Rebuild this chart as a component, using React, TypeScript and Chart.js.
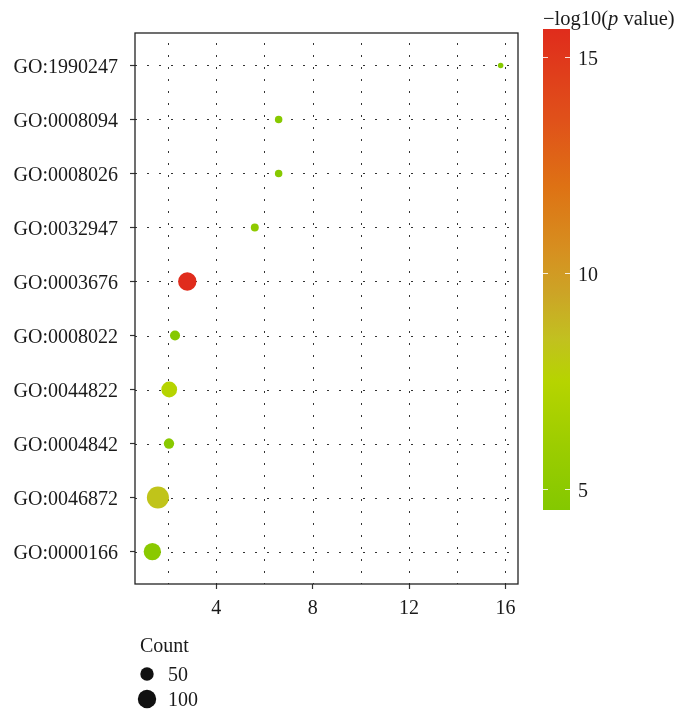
import React, { useEffect, useRef } from "react";
import { Chart, registerables } from "chart.js";
Chart.register(...registerables);

const goTerms = [
  "GO:1990247",
  "GO:0008094",
  "GO:0008026",
  "GO:0032947",
  "GO:0003676",
  "GO:0008022",
  "GO:0044822",
  "GO:0004842",
  "GO:0046872",
  "GO:0000166",
];
const xValues = [15.8, 6.59, 6.59, 5.6, 2.8, 2.29, 2.05, 2.04, 1.58, 1.35];
const counts = [6, 13, 13, 15, 100, 26, 72, 28, 147, 88];
const negLog10P = [4.6, 4.7, 4.7, 5.2, 15.65, 4.6, 7.5, 4.8, 8.3, 4.9];

const xTicks = [4, 8, 12, 16];
const xGridValues = [2, 4, 6, 8, 10, 12, 14, 16];
const xLimits = [0.63, 16.52];

const colorLimits = [4.52, 15.65];
const colorTicks = [5, 10, 15];
const colorStopValues = [4.52, 6.0, 7.5, 8.5, 9.5, 10.5, 12.0, 13.5, 15.65];
const colorStopHexes = [
  "#84c800",
  "#9ccd00",
  "#b6d400",
  "#c2c020",
  "#cca526",
  "#d69020",
  "#de7214",
  "#e0521a",
  "#e02c1c",
];

const countLegend = [50, 100];

const FONT = "'Liberation Serif', 'Times New Roman', serif";

function radiusFor(c: number): number {
  return 0.67 + 0.853 * Math.sqrt(c);
}

function hexToRgb(h: string): number[] {
  const n = parseInt(h.slice(1), 16);
  return [(n >> 16) & 255, (n >> 8) & 255, n & 255];
}

function colorFor(v: number): string {
  const vs = colorStopValues;
  if (v <= vs[0]) return colorStopHexes[0];
  if (v >= vs[vs.length - 1]) return colorStopHexes[vs.length - 1];
  for (let i = 0; i < vs.length - 1; i++) {
    if (v >= vs[i] && v <= vs[i + 1]) {
      const t = (v - vs[i]) / (vs[i + 1] - vs[i]);
      const a = hexToRgb(colorStopHexes[i]);
      const b = hexToRgb(colorStopHexes[i + 1]);
      const c = a.map((x, k) => Math.round(x + (b[k] - x) * t));
      return `rgb(${c[0]},${c[1]},${c[2]})`;
    }
  }
  return colorStopHexes[0];
}

const gridPlugin = {
  id: "dotGrid",
  beforeDatasetsDraw(chart: any) {
    const { ctx, chartArea, scales } = chart;
    const { left, right, top, bottom } = chartArea;
    ctx.save();
    ctx.strokeStyle = "#333";
    ctx.lineWidth = 1;
    ctx.setLineDash([2, 10]);
    for (const v of xGridValues) {
      const x = Math.round(scales.x.getPixelForValue(v)) + 0.5;
      ctx.lineDashOffset = -10;
      ctx.beginPath();
      ctx.moveTo(x, top);
      ctx.lineTo(x, bottom);
      ctx.stroke();
    }
    goTerms.forEach((_, i) => {
      const y = Math.round(scales.y.getPixelForValue(i)) + 0.5;
      ctx.lineDashOffset = -12;
      ctx.beginPath();
      ctx.moveTo(left, y);
      ctx.lineTo(right, y);
      ctx.stroke();
    });
    ctx.restore();
  },
  afterDraw(chart: any) {
    const { ctx, chartArea } = chart;
    const { left, right, top, bottom } = chartArea;
    ctx.save();
    // panel border
    ctx.strokeStyle = "#222";
    ctx.lineWidth = 1.3;
    ctx.setLineDash([]);
    ctx.strokeRect(left, top, right - left, bottom - top);

    // colour bar
    const bx0 = 543, bx1 = 570, by0 = 29, by1 = 510;
    const [cmin, cmax] = colorLimits;
    const yFor = (v: number) => by1 - ((v - cmin) / (cmax - cmin)) * (by1 - by0);
    const grad = ctx.createLinearGradient(0, by1, 0, by0);
    colorStopValues.forEach((v, i) => {
      grad.addColorStop(Math.min(1, Math.max(0, (v - cmin) / (cmax - cmin))), colorStopHexes[i]);
    });
    ctx.fillStyle = grad;
    ctx.fillRect(bx0, by0, bx1 - bx0, by1 - by0);
    ctx.strokeStyle = "rgba(255,255,255,0.85)";
    ctx.lineWidth = 1;
    ctx.fillStyle = "#1a1a1a";
    ctx.font = `20px ${FONT}`;
    ctx.textAlign = "left";
    ctx.textBaseline = "middle";
    for (const t of colorTicks) {
      const y = Math.round(yFor(t)) + 0.5;
      ctx.beginPath();
      ctx.moveTo(bx0, y);
      ctx.lineTo(bx0 + 5, y);
      ctx.moveTo(bx1 - 5, y);
      ctx.lineTo(bx1, y);
      ctx.stroke();
      ctx.fillText(String(t), 578, y + 2);
    }
    // colour bar title
    ctx.textBaseline = "alphabetic";
    let tx = 543;
    const ty = 25;
    const parts: [string, string][] = [
      ["\u2212log10(", `20.5px ${FONT}`],
      ["p", `italic 20.5px ${FONT}`],
      [" value)", `20.5px ${FONT}`],
    ];
    for (const [s, f] of parts) {
      ctx.font = f;
      ctx.fillText(s, tx, ty);
      tx += ctx.measureText(s).width;
    }

    // count legend
    ctx.font = `20px ${FONT}`;
    ctx.textBaseline = "middle";
    ctx.fillText("Count", 140, 647);
    const ys = [674, 699];
    countLegend.forEach((c, i) => {
      ctx.fillStyle = "#111";
      ctx.beginPath();
      ctx.arc(147, ys[i], radiusFor(c), 0, Math.PI * 2);
      ctx.fill();
      ctx.fillStyle = "#1a1a1a";
      ctx.fillText(String(c), 168, ys[i] + 2);
    });
    ctx.restore();
  },
};

export default function App() {
  const ref = useRef<HTMLCanvasElement | null>(null);
  useEffect(() => {
    document.body.style.margin = "0";
    if (!ref.current) return;
    const data = goTerms.map((_, i) => ({ x: xValues[i], y: i }));
    const chart = new Chart(ref.current, {
      type: "scatter",
      data: {
        datasets: [
          {
            data,
            pointRadius: counts.map(radiusFor),
            pointHoverRadius: counts.map(radiusFor),
            backgroundColor: negLog10P.map(colorFor),
            borderWidth: 0,
          },
        ],
      },
      options: {
        animation: false,
        responsive: false,
        devicePixelRatio: 1,
        layout: { padding: { top: 33, right: 162, left: 0, bottom: 0 } },
        plugins: { legend: { display: false }, tooltip: { enabled: false } },
        scales: {
          x: {
            type: "linear",
            min: xLimits[0],
            max: xLimits[1],
            afterBuildTicks: (s: any) => {
              s.ticks = xTicks.map((v) => ({ value: v }));
            },
            afterFit: (s: any) => {
              s.height = 126;
            },
            ticks: {
              font: { family: FONT, size: 20 },
              color: "#1a1a1a",
              padding: 8,
              maxRotation: 0,
              autoSkip: false,
            },
            grid: { drawOnChartArea: false, tickLength: 5, tickColor: "#333", tickWidth: 1.2 },
            border: { display: false },
          },
          y: {
            type: "linear",
            min: -0.6,
            max: 9.6,
            reverse: true,
            afterBuildTicks: (s: any) => {
              s.ticks = goTerms.map((_, i) => ({ value: i }));
            },
            afterFit: (s: any) => {
              s.width = 135;
            },
            ticks: {
              font: { family: FONT, size: 20 },
              color: "#1a1a1a",
              padding: 12,
              labelOffset: 2,
              autoSkip: false,
              callback: (v: any) => goTerms[Number(v)] ?? "",
            },
            grid: { drawOnChartArea: false, tickLength: 5, tickColor: "#333", tickWidth: 1.2 },
            border: { display: false },
          },
        },
      },
      plugins: [gridPlugin],
    });
    return () => chart.destroy();
  }, []);
  return <canvas ref={ref} width={680} height={710} style={{ display: "block" }} />;
}
